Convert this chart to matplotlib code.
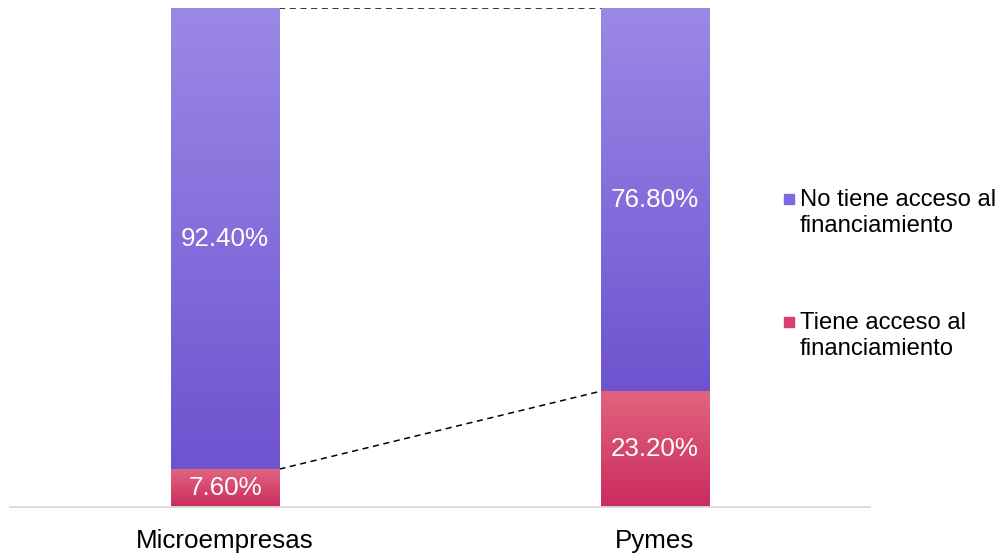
import numpy as np
import matplotlib
matplotlib.use("Agg")
import matplotlib.pyplot as plt
from matplotlib.colors import LinearSegmentedColormap
from matplotlib.patches import Rectangle

plt.rcParams['font.family'] = ['Liberation Sans', 'DejaVu Sans']

categories = ["Microempresas", "Pymes"]
con_acceso = [7.60, 23.20]      # Tiene acceso al financiamiento
sin_acceso = [92.40, 76.80]     # No tiene acceso al financiamiento
series_labels = ["No tiene acceso al\nfinanciamiento", "Tiene acceso al\nfinanciamiento"]

purple_top, purple_bottom = "#9b89e6", "#6e53cf"
pink_top, pink_bottom = "#e1647f", "#ca2c5e"

W, H = 1003, 554
fig = plt.figure(figsize=(W / 100, H / 100), dpi=100)
ax = fig.add_axes([10 / W, (H - 507) / H, 860 / W, 499 / H])

bar_w = 0.253
x = np.arange(len(categories))
grad = np.linspace(0, 1, 256).reshape(-1, 1)


def gradient_bar(xc, y0, y1, c_top, c_bottom):
    cmap = LinearSegmentedColormap.from_list("g", [c_bottom, c_top])
    ax.imshow(grad, cmap=cmap, origin="lower", aspect="auto",
              extent=(xc - bar_w / 2, xc + bar_w / 2, y0, y1), zorder=2)


for xi, lo, hi in zip(x, con_acceso, sin_acceso):
    gradient_bar(xi, 0, lo, pink_top, pink_bottom)
    gradient_bar(xi, lo, lo + hi, purple_top, purple_bottom)
    ax.text(xi, lo / 2, f"{lo:.2f}%", ha="center", va="center",
            color="white", fontsize=18.7, zorder=3)
    ax.text(xi, lo + hi / 2, f"{hi:.2f}%", ha="center", va="center",
            color="white", fontsize=18.7, zorder=3)

# series connector lines between the bars
ax.plot([x[0] + bar_w / 2, x[1] - bar_w / 2], [con_acceso[0], con_acceso[1]],
        color="black", lw=1.1, ls=(0, (4, 3)), zorder=1)
ax.plot([x[0] + bar_w / 2, x[1] - bar_w / 2],
        [con_acceso[0] + sin_acceso[0], con_acceso[1] + sin_acceso[1]],
        color="black", lw=1.1, ls=(0, (4, 3)), zorder=1)

ax.set_xlim(-0.5, 1.5)
ax.set_ylim(0, 100)
ax.set_xticks(x)
ax.set_xticklabels(categories, fontsize=18.7)
ax.tick_params(axis="x", length=0, pad=16)
ax.set_yticks([])
for s in ["top", "left", "right"]:
    ax.spines[s].set_visible(False)
ax.spines["bottom"].set_color("#d9d9d9")
ax.spines["bottom"].set_linewidth(1.3)

# legend
legend_items = [(series_labels[0], "#7d68df", 213), (series_labels[1], "#d8416f", 336)]
for text, col, yc in legend_items:
    fig.patches.append(Rectangle((784 / W, (H - yc + 9) / H), 10 / W, 10 / H,
                                 transform=fig.transFigure, color=col))
    fig.text(800 / W, (H - yc) / H, text, fontsize=17.2, ha="left",
             va="center", linespacing=1.25)

fig.savefig("out.png", dpi=100)
